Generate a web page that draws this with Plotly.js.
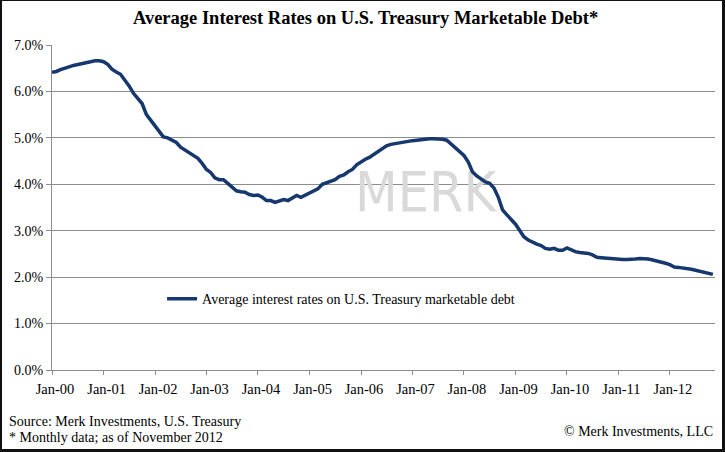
<!DOCTYPE html>
<html>
<head>
<meta charset="utf-8">
<script src="https://cdn.plot.ly/plotly-3.0.1.min.js"></script>
<style>
  html, body { margin: 0; padding: 0; background: #fff; }
  #frame { width: 725px; height: 452px; box-sizing: border-box;
           border-style: solid; border-color: #111;
           border-width: 1px 3px 3px 2px; overflow: hidden; }
  #chart { width: 720px; height: 448px; }
</style>
</head>
<body>
<div id="frame"><div id="chart"></div></div>
<script>
// Average interest rate (%) on U.S. Treasury marketable debt, monthly, Jan-2000 .. Nov-2012
var startYear = 2000;
var rates2000 = [6.41, 6.43, 6.47, 6.51, 6.53, 6.56, 6.58, 6.60, 6.62, 6.64, 6.66, 6.66];
var rates2001 = [6.64, 6.58, 6.48, 6.42, 6.37, 6.24, 6.12, 5.96, 5.86, 5.74, 5.50, 5.38];
var rates2002 = [5.25, 5.12, 5.02, 5.00, 4.96, 4.90, 4.80, 4.74, 4.68, 4.60, 4.56, 4.45];
var rates2003 = [4.32, 4.25, 4.14, 4.10, 4.10, 4.02, 3.93, 3.86, 3.84, 3.83, 3.78, 3.76];
var rates2004 = [3.77, 3.72, 3.65, 3.65, 3.61, 3.64, 3.67, 3.65, 3.70, 3.76, 3.72, 3.76];
var rates2005 = [3.81, 3.86, 3.90, 4.00, 4.03, 4.05, 4.10, 4.17, 4.20, 4.27, 4.32, 4.42];
var rates2006 = [4.49, 4.54, 4.58, 4.64, 4.71, 4.78, 4.83, 4.86, 4.88, 4.89, 4.91, 4.93];
var rates2007 = [4.94, 4.95, 4.96, 4.98, 4.98, 4.98, 4.98, 4.97, 4.95, 4.87, 4.80, 4.71];
var rates2008 = [4.62, 4.48, 4.27, 4.18, 4.11, 4.05, 4.02, 3.92, 3.72, 3.45, 3.34, 3.24];
var rates2009 = [3.14, 3.00, 2.87, 2.80, 2.75, 2.71, 2.68, 2.62, 2.60, 2.62, 2.58, 2.58];
var rates2010 = [2.63, 2.58, 2.55, 2.53, 2.52, 2.51, 2.48, 2.43, 2.42, 2.41, 2.40, 2.40];
var rates2011 = [2.39, 2.38, 2.38, 2.38, 2.39, 2.40, 2.40, 2.39, 2.37, 2.35, 2.33, 2.30];
var rates2012 = [2.27, 2.22, 2.21, 2.20, 2.18, 2.17, 2.15, 2.13, 2.11, 2.09, 2.06];

var tickYears = [2000, 2001, 2002, 2003, 2004, 2005, 2006, 2007, 2008, 2009, 2010, 2011, 2012];
var tickLabels = ["Jan-00", "Jan-01", "Jan-02", "Jan-03", "Jan-04", "Jan-05", "Jan-06",
                  "Jan-07", "Jan-08", "Jan-09", "Jan-10", "Jan-11", "Jan-12"];
var yTicks = [0, 1, 2, 3, 4, 5, 6, 7];
var yTickLabels = ["0.0%", "1.0%", "2.0%", "3.0%", "4.0%", "5.0%", "6.0%", "7.0%"];
var seriesName = "Average interest rates on U.S. Treasury marketable debt";

var yearly = [rates2000, rates2001, rates2002, rates2003, rates2004, rates2005, rates2006,
              rates2007, rates2008, rates2009, rates2010, rates2011, rates2012];
var dates = [], values = [];
yearly.forEach(function (arr, yi) {
  arr.forEach(function (v, mi) {
    var mm = (mi + 1 < 10 ? "0" : "") + (mi + 1);
    dates.push((startYear + yi) + "-" + mm + "-01");
    values.push(v);
  });
});
var tickVals = tickYears.map(function (y) { return y + "-01-01"; });

var serif = "'Liberation Serif', 'Times New Roman', serif";

var watermark = {
  x: ["2007-04-03"], y: [3.72], mode: "text", text: ["MERK"],
  textposition: "middle center",
  textfont: { family: "'DejaVu Sans Condensed', 'Liberation Sans', Arial, sans-serif", size: 55, color: "#d9d9d9" },
  showlegend: false, hoverinfo: "skip"
};

var line = {
  x: dates, y: values, mode: "lines", name: seriesName,
  line: { color: "#17386f", width: 3.5 }
};

var layout = {
  width: 720, height: 448,
  margin: { l: 50, r: 7, t: 44, b: 79 },
  paper_bgcolor: "#fff", plot_bgcolor: "#fff",
  font: { family: serif, size: 14, color: "#000" },
  title: {
    text: "<b>Average Interest Rates on U.S. Treasury Marketable Debt*</b>",
    font: { family: serif, size: 18.5, color: "#000" },
    xref: "container", yref: "container", x: 0.505, y: 0.962, xanchor: "center", yanchor: "middle"
  },
  xaxis: {
    type: "date", range: ["2000-01-01", "2012-11-16"],
    tickmode: "array", tickvals: tickVals, ticktext: tickLabels,
    ticks: "outside", ticklen: 4, tickcolor: "#8c8c8c", tickwidth: 1,
    ticklabelshift: 3, ticklabelstandoff: 2,
    showgrid: false, zeroline: false,
    showline: true, linecolor: "#8c8c8c", linewidth: 1,
    tickfont: { family: serif, size: 14.5, color: "#000" },
    fixedrange: true
  },
  yaxis: {
    range: [0, 7], tickmode: "array", tickvals: yTicks, ticktext: yTickLabels,
    ticks: "outside", ticklen: 5, tickcolor: "#8c8c8c", tickwidth: 1,
    showgrid: true, gridcolor: "#8c8c8c", gridwidth: 1, zeroline: false,
    showline: true, linecolor: "#8c8c8c", linewidth: 1,
    tickfont: { family: serif, size: 14, color: "#000" },
    fixedrange: true
  },
  showlegend: true,
  legend: {
    x: 0.166, y: 0.218, xanchor: "left", yanchor: "middle",
    bgcolor: "rgba(0,0,0,0)", borderwidth: 0,
    font: { family: serif, size: 14, color: "#000" }
  },
  annotations: [
    { xref: "paper", yref: "paper", x: -0.0679, y: -0.159, xanchor: "left", yanchor: "middle",
      text: "Source: Merk Investments, U.S. Treasury", showarrow: false,
      font: { family: serif, size: 14, color: "#000" } },
    { xref: "paper", yref: "paper", x: -0.0679, y: -0.209, xanchor: "left", yanchor: "middle",
      text: "* Monthly data; as of November 2012", showarrow: false,
      font: { family: serif, size: 14, color: "#000" } },
    { xref: "paper", yref: "paper", x: 1.0, y: -0.19, xanchor: "right", yanchor: "middle",
      text: "© Merk Investments, LLC", showarrow: false,
      font: { family: serif, size: 14, color: "#000" } }
  ]
};

Plotly.newPlot("chart", [watermark, line], layout, { displayModeBar: false, staticPlot: true });
</script>
</body>
</html>
